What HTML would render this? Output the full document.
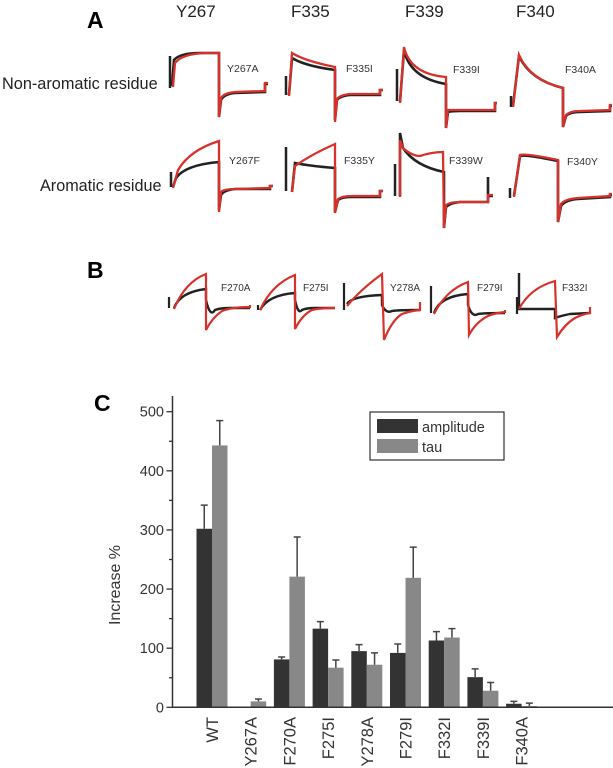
<!DOCTYPE html>
<html><head><meta charset="utf-8"><style>
body{margin:0;background:#fff;}
svg{display:block;font-family:"Liberation Sans",sans-serif;}
</style></head><body>
<svg width="613" height="768" viewBox="0 0 613 768">
<g>
<text x="87" y="28" font-size="23" font-weight="bold">A</text>
<g font-size="17" fill="#222">
<text x="176" y="17">Y267</text>
<text x="291" y="17">F335</text>
<text x="405" y="17">F339</text>
<text x="516" y="17">F340</text>
</g>
<text x="2" y="89" font-size="16.3" fill="#222">Non-aromatic residue</text>
<text x="40" y="191" font-size="16.2" fill="#222">Aromatic residue</text>
<g font-size="10.5" fill="#333">
<text x="227" y="72">Y267A</text>
<text x="346" y="72">F335I</text>
<text x="453" y="73">F339I</text>
<text x="565" y="73">F340A</text>
<text x="229" y="164">Y267F</text>
<text x="344" y="164">F335Y</text>
<text x="449" y="164">F339W</text>
<text x="567" y="165">F340Y</text>
</g>
<g stroke="#222" stroke-width="2.5">
<line x1="170" y1="56" x2="170" y2="88"/><line x1="286" y1="76" x2="286" y2="95"/>
<line x1="397" y1="69" x2="397" y2="101"/><line x1="511" y1="96" x2="511" y2="107"/>
<line x1="171" y1="172" x2="171" y2="187"/><line x1="286" y1="147" x2="286" y2="191"/>
<line x1="395" y1="164" x2="395" y2="196"/><line x1="510" y1="188" x2="510" y2="198"/>
</g>
<g fill="none" stroke="#222" stroke-width="2.6">
<path d="M172,86 L174,60 Q180,53 200,53 L219,53 L219,117 L221,100 Q224,94 235,93 L265,92 L265,84 L268,84"/>
<path d="M289,95 L292,58 Q305,66 335,70 L335,120 L337,100 Q340,96 350,95 L380,95 L380,90 L383,90"/>
<path d="M400,102 L404,50 Q410,78 446,84 L446,128 L448,112 Q452,111 460,111 L495,111 L495,103 L497,103"/>
<path d="M513,106 L519,56 Q530,80 563,88 L563,127 L566,116 Q570,112 580,112 L610,111 L610,106 L612,106"/>
<path d="M173,187 L176,178 Q185,165 219,162 L219,210 L221,195 Q224,190 235,189 L270,189 L270,186 L273,186"/>
<path d="M292,192 L295,163 Q310,166 335,168 L335,212 L338,200 Q342,197 352,197 L380,197 L380,191 L383,191"/>
<path d="M400,196 L400,133 L403,148 Q415,166 444,172 L444,228 L446,207 Q450,203 460,202 L488,202 L488,177 L488,196 L493,196"/>
<path d="M514,196 L520,156 Q525,154 558,161 L558,222 L561,206 Q565,200 578,199 L610,197 L610,195 L612,195"/>
</g>
<g fill="none" stroke="#d8312b" stroke-width="2.3">
<path d="M173,87 L175,63 Q182,54 205,53 L219,53 L219,117 L221,98 Q224,93 235,92 L265,91 L265,83 L268,83"/>
<path d="M289,96 L292,53 Q305,61 335,67 L335,122 L337,99 Q340,95 350,94 L380,94 L380,90 L383,90"/>
<path d="M400,103 L404,47 Q410,74 446,77 L446,128 L448,110 Q452,110 460,110 L495,110 L495,103 L497,103"/>
<path d="M513,107 L519,55 Q530,80 563,88 L563,127 L566,115 Q570,111 580,111 L610,110 L610,105 L612,105"/>
<path d="M173,188 L178,170 Q190,150 219,141 L219,212 L221,192 Q224,189 235,189 L270,188 L270,186 L273,186"/>
<path d="M292,192 L295,166 Q312,154 335,144 L335,213 L338,199 Q342,196 352,196 L380,196 L380,191 L383,191"/>
<path d="M400,197 L400,140 L403,148 Q412,156 420,156 Q432,152 443,152 L444,228 L446,205 Q450,202 460,202 L488,202 L488,195 L493,195"/>
<path d="M514,197 L520,155 Q525,153 558,160 L558,222 L561,204 Q565,199 578,198 L610,196 L610,194 L612,194"/>
</g>
</g>
<g>
<text x="87" y="278" font-size="23" font-weight="bold">B</text>
<g font-size="10" fill="#333">
<text x="221" y="291">F270A</text>
<text x="303" y="291">F275I</text>
<text x="390" y="291">Y278A</text>
<text x="477" y="291">F279I</text>
<text x="562" y="291">F332I</text>
</g>
<g stroke="#222" stroke-width="2.2">
<line x1="169" y1="297" x2="169" y2="308"/><line x1="258" y1="305" x2="258" y2="310"/>
<line x1="344" y1="283" x2="344" y2="310"/><line x1="431" y1="286" x2="431" y2="313"/>
<line x1="517" y1="297" x2="517" y2="314"/>
</g>
<g fill="none" stroke="#222" stroke-width="2.4">
<path d="M174,308 Q180,292 206,289 L206,300 Q210,318 215,310 Q220,308 230,308 L250,308"/>
<path d="M260,310 Q268,295 295,293 L295,300 Q298,315 302,310 Q306,308 315,308 L335,308"/>
<path d="M347,304 Q352,296 382,295 L382,305 Q386,314 392,311 Q398,310 420,310"/>
<path d="M434,313 Q440,296 468,294 L468,305 Q472,318 478,314 Q485,313 505,313"/>
<path d="M519,273 L519,309 L555,309 L555,318 Q560,316 570,314 L590,313"/>
</g>
<g fill="none" stroke="#d8312b" stroke-width="2.2">
<path d="M174,309 Q185,282 206,274 L206,330 Q212,318 222,311 Q232,307 250,307 L250,305"/>
<path d="M260,310 Q272,284 295,275 L295,329 Q302,315 312,310 Q320,308 335,308"/>
<path d="M347,306 Q360,290 382,274 L384,340 Q392,320 402,314 Q410,311 420,310 L420,302"/>
<path d="M434,314 Q446,290 468,282 L469,335 Q476,322 488,316 Q495,313 505,312 L505,310"/>
<path d="M519,309 Q530,288 555,281 L557,337 Q565,324 575,318 Q583,314 590,313 L590,307"/>
</g>
</g>
<g id="chart">
<text x="94" y="411" font-size="23" font-weight="bold">C</text>
<text transform="translate(120,585) rotate(-90)" text-anchor="middle" font-size="16" fill="#333">Increase %</text>
<g>
<rect x="370" y="412" width="134" height="48" fill="#fff" stroke="#333" stroke-width="1.2"/>
<rect x="377" y="419" width="41" height="14" fill="#333"/>
<text x="422" y="432" font-size="14.5" fill="#333">amplitude</text>
<rect x="377" y="439" width="41" height="14" fill="#888"/>
<text x="422" y="452" font-size="14.5" fill="#333">tau</text>
</g>
</g>
</svg>
<script>
const categories=["WT","Y267A","F270A","F275I","Y278A","F279I","F332I","F339I","F340A"];
const amplitude=[302,0,81,133,95,92,113,51,6];
const amplitudeErr=[40,0,4,12,11,15,15,14,4];
const tau=[443,10,221,67,72,219,118,28,2];
const tauErr=[42,4,67,13,20,52,15,14,5];
const yTicks=[0,100,200,300,400,500];
const NS="http://www.w3.org/2000/svg";
const chart=document.getElementById("chart");
const y0=707.3,pxPer=0.5912,x0=212,step=38.7,bw=15.5,axX=172.5;
function yScale(v){return y0-v*pxPer;}
function xCenter(i){return x0+i*step;}
function mk(tag,attrs){const e=document.createElementNS(NS,tag);for(const k in attrs)e.setAttribute(k,attrs[k]);chart.appendChild(e);return e;}
categories.forEach((c,i)=>{
  const cx=xCenter(i);
  [[amplitude[i],amplitudeErr[i],cx-bw,"#333","amplitude"],[tau[i],tauErr[i],cx,"#888","tau"]].forEach(s=>{
    if(s[0]>0){
      const r=mk("rect",{x:s[2],y:yScale(s[0]),width:bw,height:y0-yScale(s[0]),fill:s[3]});
      
      
    }
    if(s[1]>0){
      const m=s[2]+bw/2,top=yScale(s[0]+s[1]);
      const e=mk("path",{d:`M${m},${yScale(s[0])} L${m},${top} M${m-3.5},${top} L${m+3.5},${top}`,stroke:"#444","stroke-width":1.5,fill:"none"});
      
      
    }
  });
  const t=mk("text",{transform:`translate(${cx+6},717) rotate(-90)`,"text-anchor":"end","font-size":"16.5",fill:"#333"});
  t.textContent=c;
  
  
});
const ax=mk("path",{d:`M${axX},396 L${axX},${y0} L613,${y0}`,stroke:"#333","stroke-width":1.5,fill:"none"});


for(let v=0;v<=500;v+=50){
  const major=v%100===0;
  const tk=mk("line",{x1:axX-(major?6:3.5),x2:axX,y1:yScale(v),y2:yScale(v),stroke:"#333","stroke-width":1.3});
  
  
}
yTicks.forEach(v=>{
  const t=mk("text",{x:164,y:yScale(v)+5,"text-anchor":"end","font-size":"14.5",fill:"#333"});
  t.textContent=v;
  
  
});
</script>
</body></html>
